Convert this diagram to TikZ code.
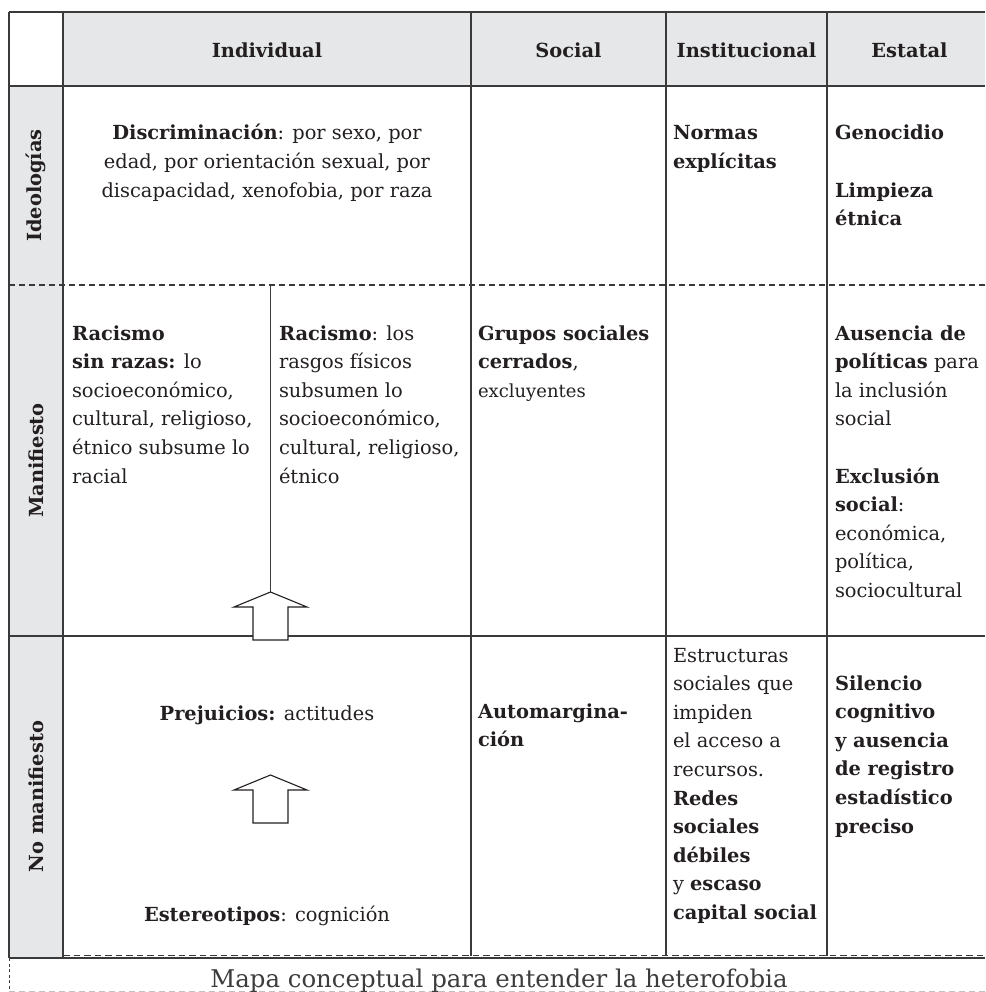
\documentclass[tikz,border=0pt]{standalone}
\usepackage{fontspec}
\setmainfont{DejaVu Serif}
\definecolor{ink}{HTML}{231F20}
\definecolor{linec}{HTML}{3A3A3A}
\definecolor{headfill}{HTML}{E6E7E8}
\definecolor{captc}{HTML}{3C3C3C}
\newcommand\bodyfont{\fontsize{19.4}{28.6}\selectfont}
\newcommand\cellrows[2][l]{\begin{tabular}[t]{@{}#1@{}}#2\end{tabular}}
\tikzset{
  gridline/.style={draw=linec, line width=1.2pt},
  dashsep/.style={draw=linec, line width=1.1pt, dash pattern=on 6pt off 4pt},
  txt/.style={inner sep=0pt, outer sep=0pt, text=ink, font=\bodyfont},
  hdr/.style={txt, font=\bodyfont\bfseries, anchor=base},
  rowlab/.style={txt, font=\bodyfont\bfseries, rotate=90, anchor=center},
  cellL/.style={txt, anchor=base west},
  cellC/.style={txt, anchor=base},
  blockarrow/.style={draw=ink, line width=1.1pt, fill=white, line join=miter},
  blockup/.pic={
    \draw[blockarrow] (-17.5,-48) -- (-17.5,-15) -- (-36.5,-15) -- (0,0)
      -- (36.5,-15) -- (17.5,-15) -- (17.5,-48) -- cycle;
  }
}
\begin{document}
\begin{tikzpicture}[x=1pt,y=1pt]
\useasboundingbox (0,0) rectangle (985,-992);

% shaded header row and row-label column
\fill[headfill] (63,-12) rectangle (985,-86);
\fill[headfill] (9,-86) rectangle (63,-958);

% table rules
\draw[gridline] (9,-12) -- (985,-12);
\draw[gridline] (9,-86) -- (985,-86);
\draw[gridline] (9,-636) -- (985,-636);
\draw[gridline] (9,-958) -- (985,-958);
\draw[dashsep] (9,-285) -- (985,-285);
\draw[dashsep, dash pattern=on 6.5pt off 4pt] (63,-955.5) -- (985,-955.5);
\draw[gridline] (9,-12) -- (9,-958);
\draw[gridline] (63,-12) -- (63,-958);
\draw[gridline] (471,-12) -- (471,-956);
\draw[gridline] (666,-12) -- (666,-956);
\draw[gridline] (827,-12) -- (827,-956);

% caption frame
\draw[draw=linec, line width=1pt, dash pattern=on 3pt off 2.5pt] (9,-958) -- (9,-992);
\draw[draw=black!25, line width=1pt, dash pattern=on 6pt off 4pt] (9,-991) -- (985,-991);

% column headers
\node[hdr] (hIndiv) at (267,-58) {Individual};
\node[hdr] (hSocial) at (568.5,-58) {Social};
\node[hdr] (hInst) at (746.5,-58) {Institucional};
\node[hdr] (hEstatal) at (909.5,-58) {Estatal};

% row labels
\node[rowlab] (rIdeo) at (36,-185.5) {Ideologías};
\node[rowlab] (rMani) at (36,-460.5) {Manifiesto};
\node[rowlab] (rNoMani) at (36,-796.5) {No manifiesto};

% Ideologías
\node[cellC] (discrim) at (267,-140) {\cellrows[c]{\textbf{Discriminación}: por sexo, por\\
  edad, por orientación sexual, por\\ discapacidad, xenofobia, por raza}};
\node[cellL] (normas) at (673,-140) {\cellrows{\textbf{Normas}\\ \textbf{explícitas}}};
\node[cellL] (genoc) at (835,-140) {\cellrows{\textbf{Genocidio}\\ \\ \textbf{Limpieza}\\ \textbf{étnica}}};

% Manifiesto
\node[cellL] (racSinRaza) at (72,-340) {\cellrows{\textbf{Racismo}\\ \textbf{sin razas:} lo\\
  socioeconómico,\\ cultural, religioso,\\ étnico subsume lo\\ racial}};
\node[cellL] (racismo) at (279,-340) {\cellrows{\textbf{Racismo}: los\\ rasgos físicos\\
  subsumen lo\\ socioeconómico,\\ cultural, religioso,\\ étnico}};
\node[cellL] (grupos) at (478,-340) {\cellrows{\textbf{Grupos sociales}\\ \textbf{cerrados},\\
  {\fontsize{18}{28.6}\selectfont excluyentes}}};
\node[cellL] (ausencia) at (835,-340) {\cellrows{\textbf{Ausencia de}\\ \textbf{políticas} para\\
  la inclusión\\ social\\ \\ \textbf{Exclusión}\\ \textbf{social}:\\ económica,\\ política,\\ sociocultural}};

% No manifiesto
\node[cellC] (prejuicios) at (267,-720) {\textbf{Prejuicios:} actitudes};
\node[cellC] (estereo) at (267,-921.7) {\textbf{Estereotipos}: cognición};
\node[cellL] (automarg) at (478,-718) {\cellrows{\textbf{Automargina-}\\ \textbf{ción}}};
\node[cellL] (estruct) at (673,-662) {\cellrows{Estructuras\\ sociales que\\ impiden\\
  el acceso a\\ recursos.\\ \textbf{Redes}\\ \textbf{sociales}\\ \textbf{débiles}\\
  y \textbf{escaso}\\ \textbf{capital social}}};
\node[cellL] (silencio) at (835,-690) {\cellrows{\textbf{Silencio}\\ \textbf{cognitivo}\\
  \textbf{y ausencia}\\ \textbf{de registro}\\ \textbf{estadístico}\\ \textbf{preciso}}};

% split line between the two kinds of racism, and the block arrows
\coordinate (splitTop) at (270.5,-285);
\coordinate (upperTip) at (270.5,-592);
\coordinate (lowerTip) at (270.5,-775);
\draw[draw=linec, line width=1.1pt] (splitTop) -- (upperTip);
\pic at (upperTip) {blockup};
\pic at (lowerTip) {blockup};

% caption
\node[inner sep=0pt, text=captc, font=\fontsize{24.4}{29}\selectfont, anchor=base] (caption)
  at (499,-987) {Mapa conceptual para entender la heterofobia};
\end{tikzpicture}
\end{document}
